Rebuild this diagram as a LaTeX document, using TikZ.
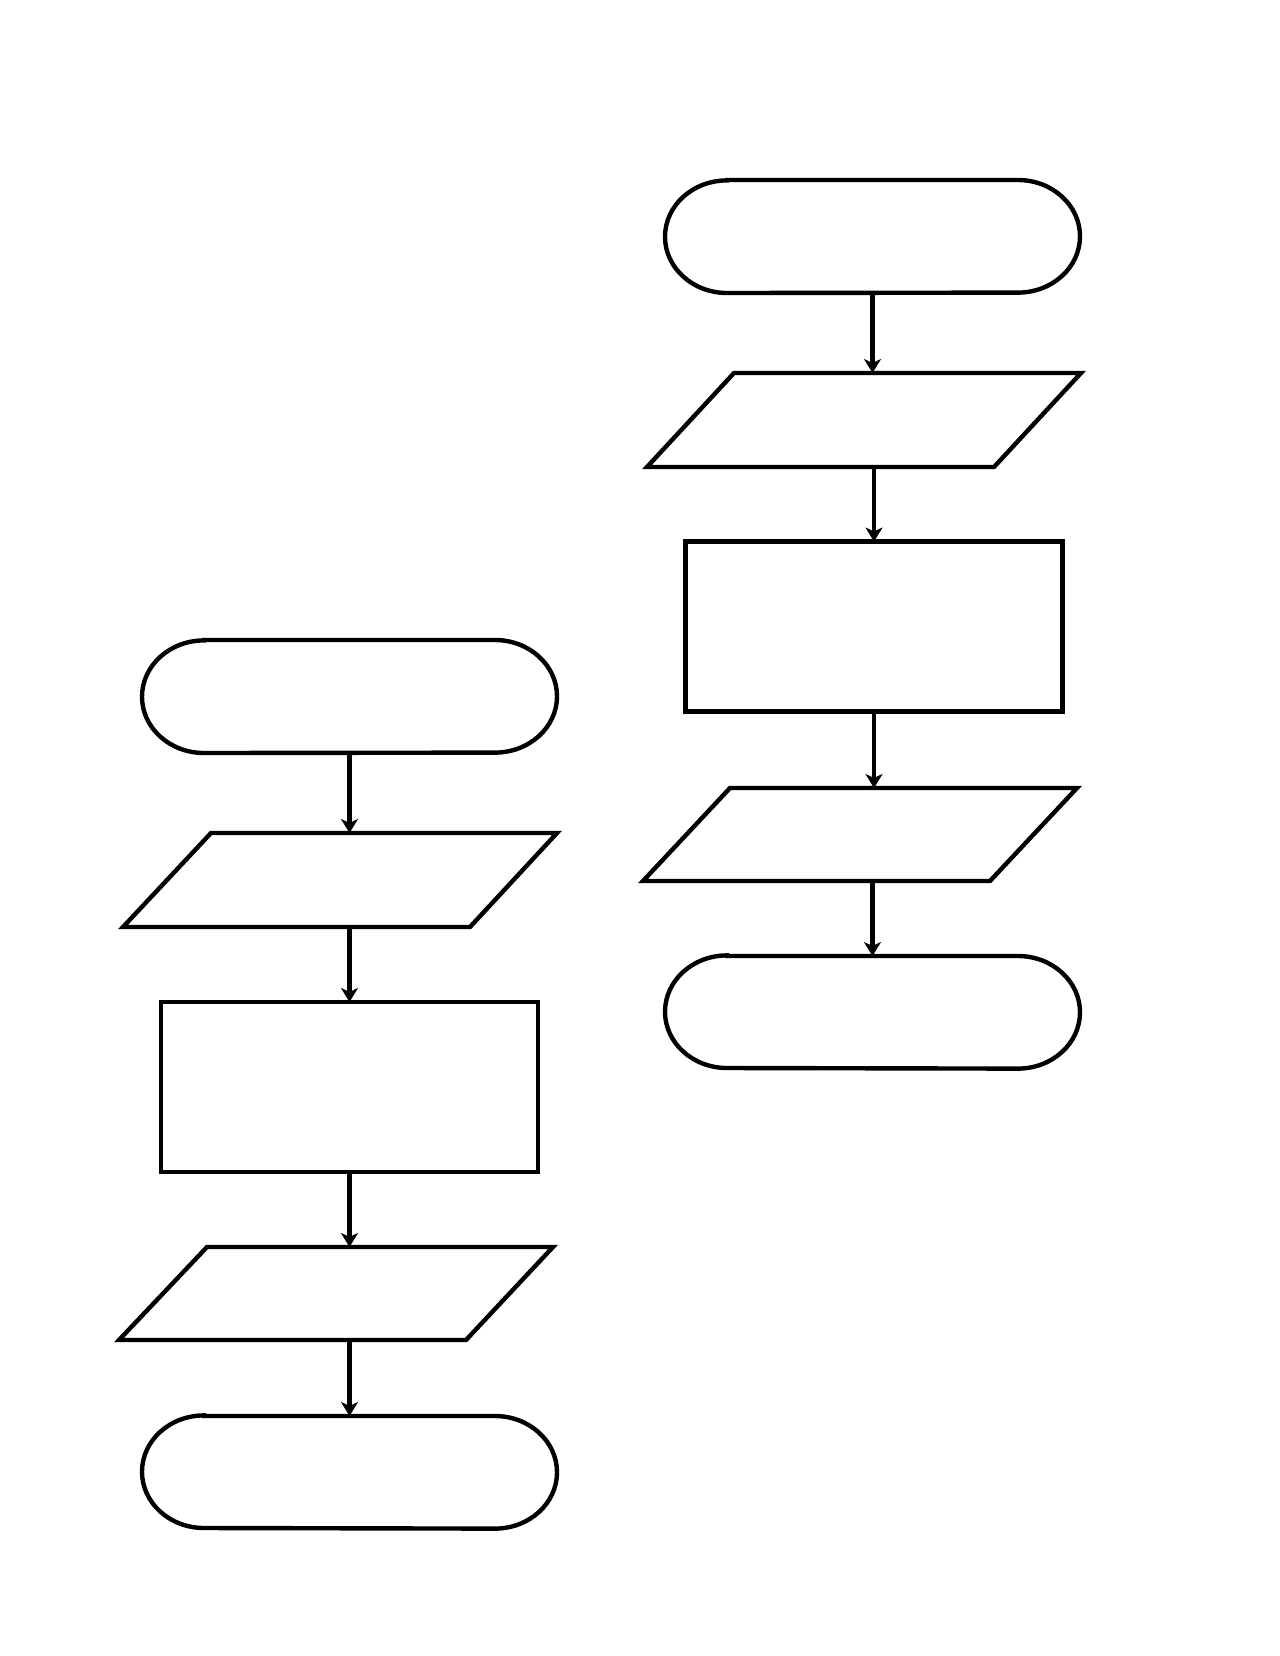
\documentclass[tikz,border=0pt]{standalone}
\usetikzlibrary{arrows.meta}
\tikzset{
  shp/.style={line width=2.2pt, draw=black},
  holder/.style={draw=none, inner sep=0pt, outer sep=0pt, minimum width=#1},
  procbox/.style={shp, inner sep=0pt, outer sep=0pt, minimum width=188.5pt, minimum height=85pt},
  arr/.style={line width=2.1pt, -{Stealth[length=7pt,width=8.5pt,inset=2pt]}}
}
\newcommand\termoutline[1]{%
  \draw[shp] ([xshift=31pt]#1.north west) -- ([xshift=-31pt]#1.north east)
    arc[start angle=90,end angle=-90,x radius=31pt,y radius=28.15pt]
    -- ([xshift=31pt]#1.south west)
    arc[start angle=270,end angle=90,x radius=31pt,y radius=28.15pt] -- cycle;}
\begin{document}
\begin{tikzpicture}[x=0.5pt,y=-0.5pt]
\useasboundingbox[fill=white] (0,0) rectangle (1280,1656);
% ---------- right column ----------
\node[holder=207.5pt, minimum height=56.5pt] (rt1) at (872.5,236.5) {};
\termoutline{rt1}
\node[holder=217pt, minimum height=47pt] (rp1) at (864,420) {};
\draw[shp] (647,467) -- (734,373) -- (1081,373) -- (994,467) -- cycle;
\node[procbox] (rr1) at (874,626.5) {};
\node[holder=217pt, minimum height=46.5pt] (rp2) at (860,834.5) {};
\draw[shp] (643,881) -- (730,788) -- (1077,788) -- (990,881) -- cycle;
\node[holder=207.5pt, minimum height=56pt] (rt2) at (872.5,1012) {};
\termoutline{rt2}
\draw[arr] (rt1.south) -- (rt1.south |- rp1.north);
\draw[arr] (rr1.north |- rp1.south) -- (rr1.north);
\draw[arr] (rr1.south) -- (rr1.south |- rp2.north);
\draw[arr] (rt2.north |- rp2.south) -- (rt2.north);
% ---------- left column ----------
\node[holder=207.5pt, minimum height=56.5pt] (lt1) at (349.5,696.5) {};
\termoutline{lt1}
\node[holder=217pt, minimum height=47pt] (lp1) at (340,880) {};
\draw[shp] (123,927) -- (211,833) -- (557,833) -- (470,927) -- cycle;
\node[procbox] (lr1) at (349.5,1087) {};
\node[holder=217pt, minimum height=46.5pt] (lp2) at (336,1293.5) {};
\draw[shp] (119,1340) -- (207,1247) -- (553,1247) -- (466,1340) -- cycle;
\node[holder=207.5pt, minimum height=56pt] (lt2) at (349.5,1472) {};
\termoutline{lt2}
\draw[arr] (lt1.south) -- (lt1.south |- lp1.north);
\draw[arr] (lr1.north |- lp1.south) -- (lr1.north);
\draw[arr] (lr1.south) -- (lr1.south |- lp2.north);
\draw[arr] (lt2.north |- lp2.south) -- (lt2.north);
\end{tikzpicture}
\end{document}
